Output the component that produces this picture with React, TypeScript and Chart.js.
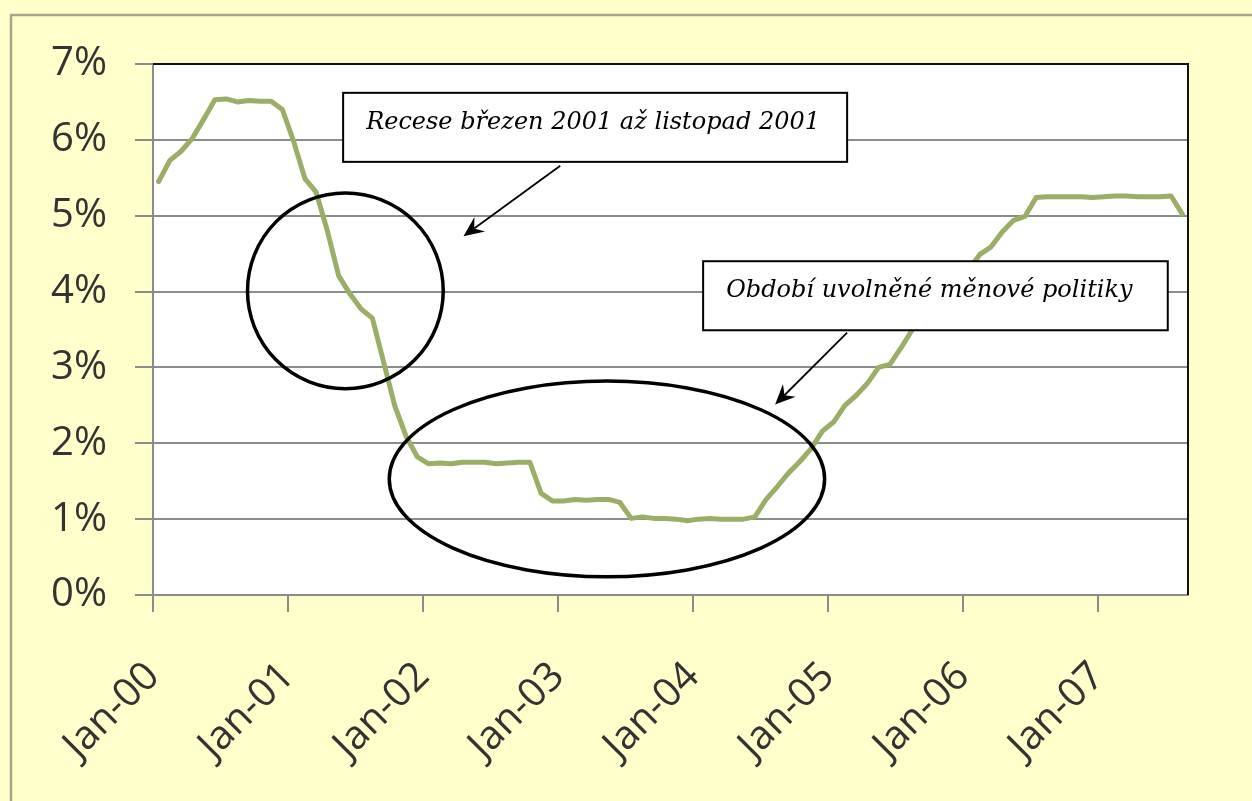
import { useEffect, useRef } from 'react';
import { Chart, registerables } from 'chart.js';

Chart.register(...registerables);

// Effective federal funds rate, monthly averages, Jan 2000 – Aug 2007 (percent)
const rate2000 = [5.45, 5.73, 5.85, 6.02, 6.27, 6.53, 6.54, 6.5, 6.52, 6.51, 6.51, 6.4];
const rate2001 = [5.98, 5.49, 5.31, 4.8, 4.21, 3.97, 3.77, 3.65, 3.07, 2.49, 2.09, 1.82];
const rate2002 = [1.73, 1.74, 1.73, 1.75, 1.75, 1.75, 1.73, 1.74, 1.75, 1.75, 1.34, 1.24];
const rate2003 = [1.24, 1.26, 1.25, 1.26, 1.26, 1.22, 1.01, 1.03, 1.01, 1.01, 1.0, 0.98];
const rate2004 = [1.0, 1.01, 1.0, 1.0, 1.0, 1.03, 1.26, 1.43, 1.61, 1.76, 1.93, 2.16];
const rate2005 = [2.28, 2.5, 2.63, 2.79, 3.0, 3.04, 3.26, 3.5, 3.62, 3.78, 4.0, 4.16];
const rate2006 = [4.29, 4.49, 4.59, 4.79, 4.94, 4.99, 5.24, 5.25, 5.25, 5.25, 5.25, 5.24];
const rate2007 = [5.25, 5.26, 5.26, 5.25, 5.25, 5.25, 5.26, 5.02];

const monthlyRates = [
  ...rate2000, ...rate2001, ...rate2002, ...rate2003,
  ...rate2004, ...rate2005, ...rate2006, ...rate2007,
];

// x axis: month slots counted from Jan 2000; ticks sit at each January
const yearLabels = ['Jan-00', 'Jan-01', 'Jan-02', 'Jan-03', 'Jan-04', 'Jan-05', 'Jan-06', 'Jan-07'];
const yearStartMonths = [0, 12, 24, 36, 48, 60, 72, 84];
const percentTicks = [0, 1, 2, 3, 4, 5, 6, 7];

// Callouts, placed in axis units (months from Jan 2000, percent)
const recessionBox = { text: 'Recese březen 2001 až listopad 2001', x0: 16.9, x1: 61.7, yTop: 6.62, yBottom: 5.71 };
const easingBox = { text: 'Období uvolněné měnové politiky', x0: 48.9, x1: 90.2, yTop: 4.4, yBottom: 3.49 };
const recessionRing = { x0: 8.4, x1: 25.8, yTop: 5.3, yBottom: 2.72 };
const easingRing = { x0: 21.0, x1: 59.7, yTop: 2.82, yBottom: 0.24 };
const recessionArrow = { fromX: 36.2, fromY: 5.66, toX: 27.6, toY: 4.73 };
const easingArrow = { fromX: 61.7, fromY: 3.46, toX: 55.3, toY: 2.51 };

const BG = '#FFFFCC';
const GRID = '#8c8c8c';
const LABEL_FONT = '"Open Sans", sans-serif';

function drawArrow(ctx: CanvasRenderingContext2D, x1: number, y1: number, x2: number, y2: number) {
  const ang = Math.atan2(y2 - y1, x2 - x1);
  const len = 22;
  const spread = 0.42;
  ctx.beginPath();
  ctx.moveTo(x1, y1);
  ctx.lineTo(x2 - Math.cos(ang) * len * 0.6, y2 - Math.sin(ang) * len * 0.6);
  ctx.lineWidth = 1.8;
  ctx.stroke();
  ctx.beginPath();
  ctx.moveTo(x2, y2);
  ctx.lineTo(x2 - Math.cos(ang - spread) * len, y2 - Math.sin(ang - spread) * len);
  ctx.lineTo(x2 - Math.cos(ang) * len * 0.6, y2 - Math.sin(ang) * len * 0.6);
  ctx.lineTo(x2 - Math.cos(ang + spread) * len, y2 - Math.sin(ang + spread) * len);
  ctx.closePath();
  ctx.fill();
}

const calloutPlugin = {
  id: 'callouts',
  beforeDraw(chart: any) {
    const { ctx, chartArea: a, width, height } = chart;
    ctx.save();
    ctx.fillStyle = BG;
    ctx.fillRect(0, 0, width, height);
    ctx.strokeStyle = '#a6a68c';
    ctx.lineWidth = 2.5;
    ctx.beginPath();
    ctx.moveTo(11, height);
    ctx.lineTo(11, 15);
    ctx.lineTo(width, 15);
    ctx.stroke();
    ctx.fillStyle = '#ffffff';
    ctx.fillRect(a.left, a.top, a.right - a.left, a.bottom - a.top);
    ctx.restore();
  },
  afterDraw(chart: any) {
    const { ctx, chartArea: a } = chart;
    const xs = chart.scales.x;
    const ys = chart.scales.y;
    const px = (v: number) => xs.getPixelForValue(v);
    const py = (v: number) => ys.getPixelForValue(v);
    ctx.save();

    // dark frame along the top and right of the plot
    ctx.strokeStyle = '#111';
    ctx.lineWidth = 2;
    ctx.beginPath();
    ctx.moveTo(a.left, a.top);
    ctx.lineTo(a.right, a.top);
    ctx.lineTo(a.right, a.bottom);
    ctx.stroke();

    // rings around the two periods
    ctx.strokeStyle = '#000';
    ctx.lineWidth = 3.5;
    for (const r of [recessionRing, easingRing]) {
      const cx = (px(r.x0) + px(r.x1)) / 2;
      const cy = (py(r.yTop) + py(r.yBottom)) / 2;
      const rx = Math.abs(px(r.x1) - px(r.x0)) / 2;
      const ry = Math.abs(py(r.yBottom) - py(r.yTop)) / 2;
      ctx.beginPath();
      ctx.ellipse(cx, cy, rx, ry, 0, 0, Math.PI * 2);
      ctx.stroke();
    }

    // arrows
    ctx.fillStyle = '#000';
    ctx.strokeStyle = '#000';
    for (const ar of [recessionArrow, easingArrow]) {
      drawArrow(ctx, px(ar.fromX), py(ar.fromY), px(ar.toX), py(ar.toY));
    }

    // text boxes
    for (const b of [recessionBox, easingBox]) {
      const l = px(b.x0);
      const t = py(b.yTop);
      const w = px(b.x1) - l;
      const h = py(b.yBottom) - t;
      ctx.fillStyle = '#fff';
      ctx.fillRect(l, t, w, h);
      ctx.strokeStyle = '#000';
      ctx.lineWidth = 2;
      ctx.strokeRect(l, t, w, h);
      ctx.fillStyle = '#000';
      ctx.font = 'italic 24px "DejaVu Serif", serif';
      ctx.textBaseline = 'alphabetic';
      ctx.textAlign = 'left';
      ctx.fillText(b.text, l + 23, t + 36);
    }
    ctx.restore();
  },
};

export default function App() {
  const canvasRef = useRef<HTMLCanvasElement | null>(null);

  useEffect(() => {
    const canvas = canvasRef.current;
    if (!canvas) return;
    const points = monthlyRates.map((v, i) => ({ x: i + 0.5, y: v }));
    const chart = new Chart(canvas, {
      type: 'line',
      data: {
        datasets: [
          {
            label: 'Fed funds',
            data: points,
            borderColor: '#9aae68',
            borderWidth: 5,
            pointRadius: 0,
            tension: 0,
            borderJoinStyle: 'round',
            borderCapStyle: 'round',
          },
        ],
      },
      options: {
        animation: false,
        responsive: false,
        devicePixelRatio: 1,
        layout: { padding: { top: 64, right: 64, left: 0, bottom: 0 } },
        plugins: { legend: { display: false }, tooltip: { enabled: false } },
        scales: {
          x: {
            type: 'linear',
            min: 0,
            max: monthlyRates.length,
            afterFit: (s: any) => { s.height = 206; },
            afterBuildTicks: (s: any) => { s.ticks = yearStartMonths.map((v) => ({ value: v })); },
            ticks: {
              autoSkip: false,
              maxRotation: 45,
              minRotation: 45,
              padding: 41,
              labelOffset: 0,
              color: '#333',
              font: { family: LABEL_FONT, size: 40 },
              callback: (v: any) => yearLabels[yearStartMonths.indexOf(Number(v))] ?? '',
            },
            grid: { drawOnChartArea: false, drawTicks: true, tickLength: 17, color: GRID, lineWidth: 2 },
            border: { color: GRID, width: 2 },
          },
          y: {
            min: 0,
            max: 7,
            afterFit: (s: any) => { s.width = 153; },
            afterBuildTicks: (s: any) => { s.ticks = percentTicks.map((v) => ({ value: v })); },
            ticks: {
              padding: 28,
              color: '#333',
              font: { family: LABEL_FONT, size: 40 },
              callback: (v: any) => `${v}%`,
            },
            grid: { color: GRID, lineWidth: 2, tickLength: 18 },
            border: { color: GRID, width: 2 },
          },
        },
      },
      plugins: [calloutPlugin],
    });
    return () => chart.destroy();
  }, []);

  return (
    <div style={{ position: 'fixed', left: 0, top: 0, width: 1252, height: 801 }}>
      <canvas ref={canvasRef} width={1252} height={801} style={{ display: 'block' }} />
    </div>
  );
}
